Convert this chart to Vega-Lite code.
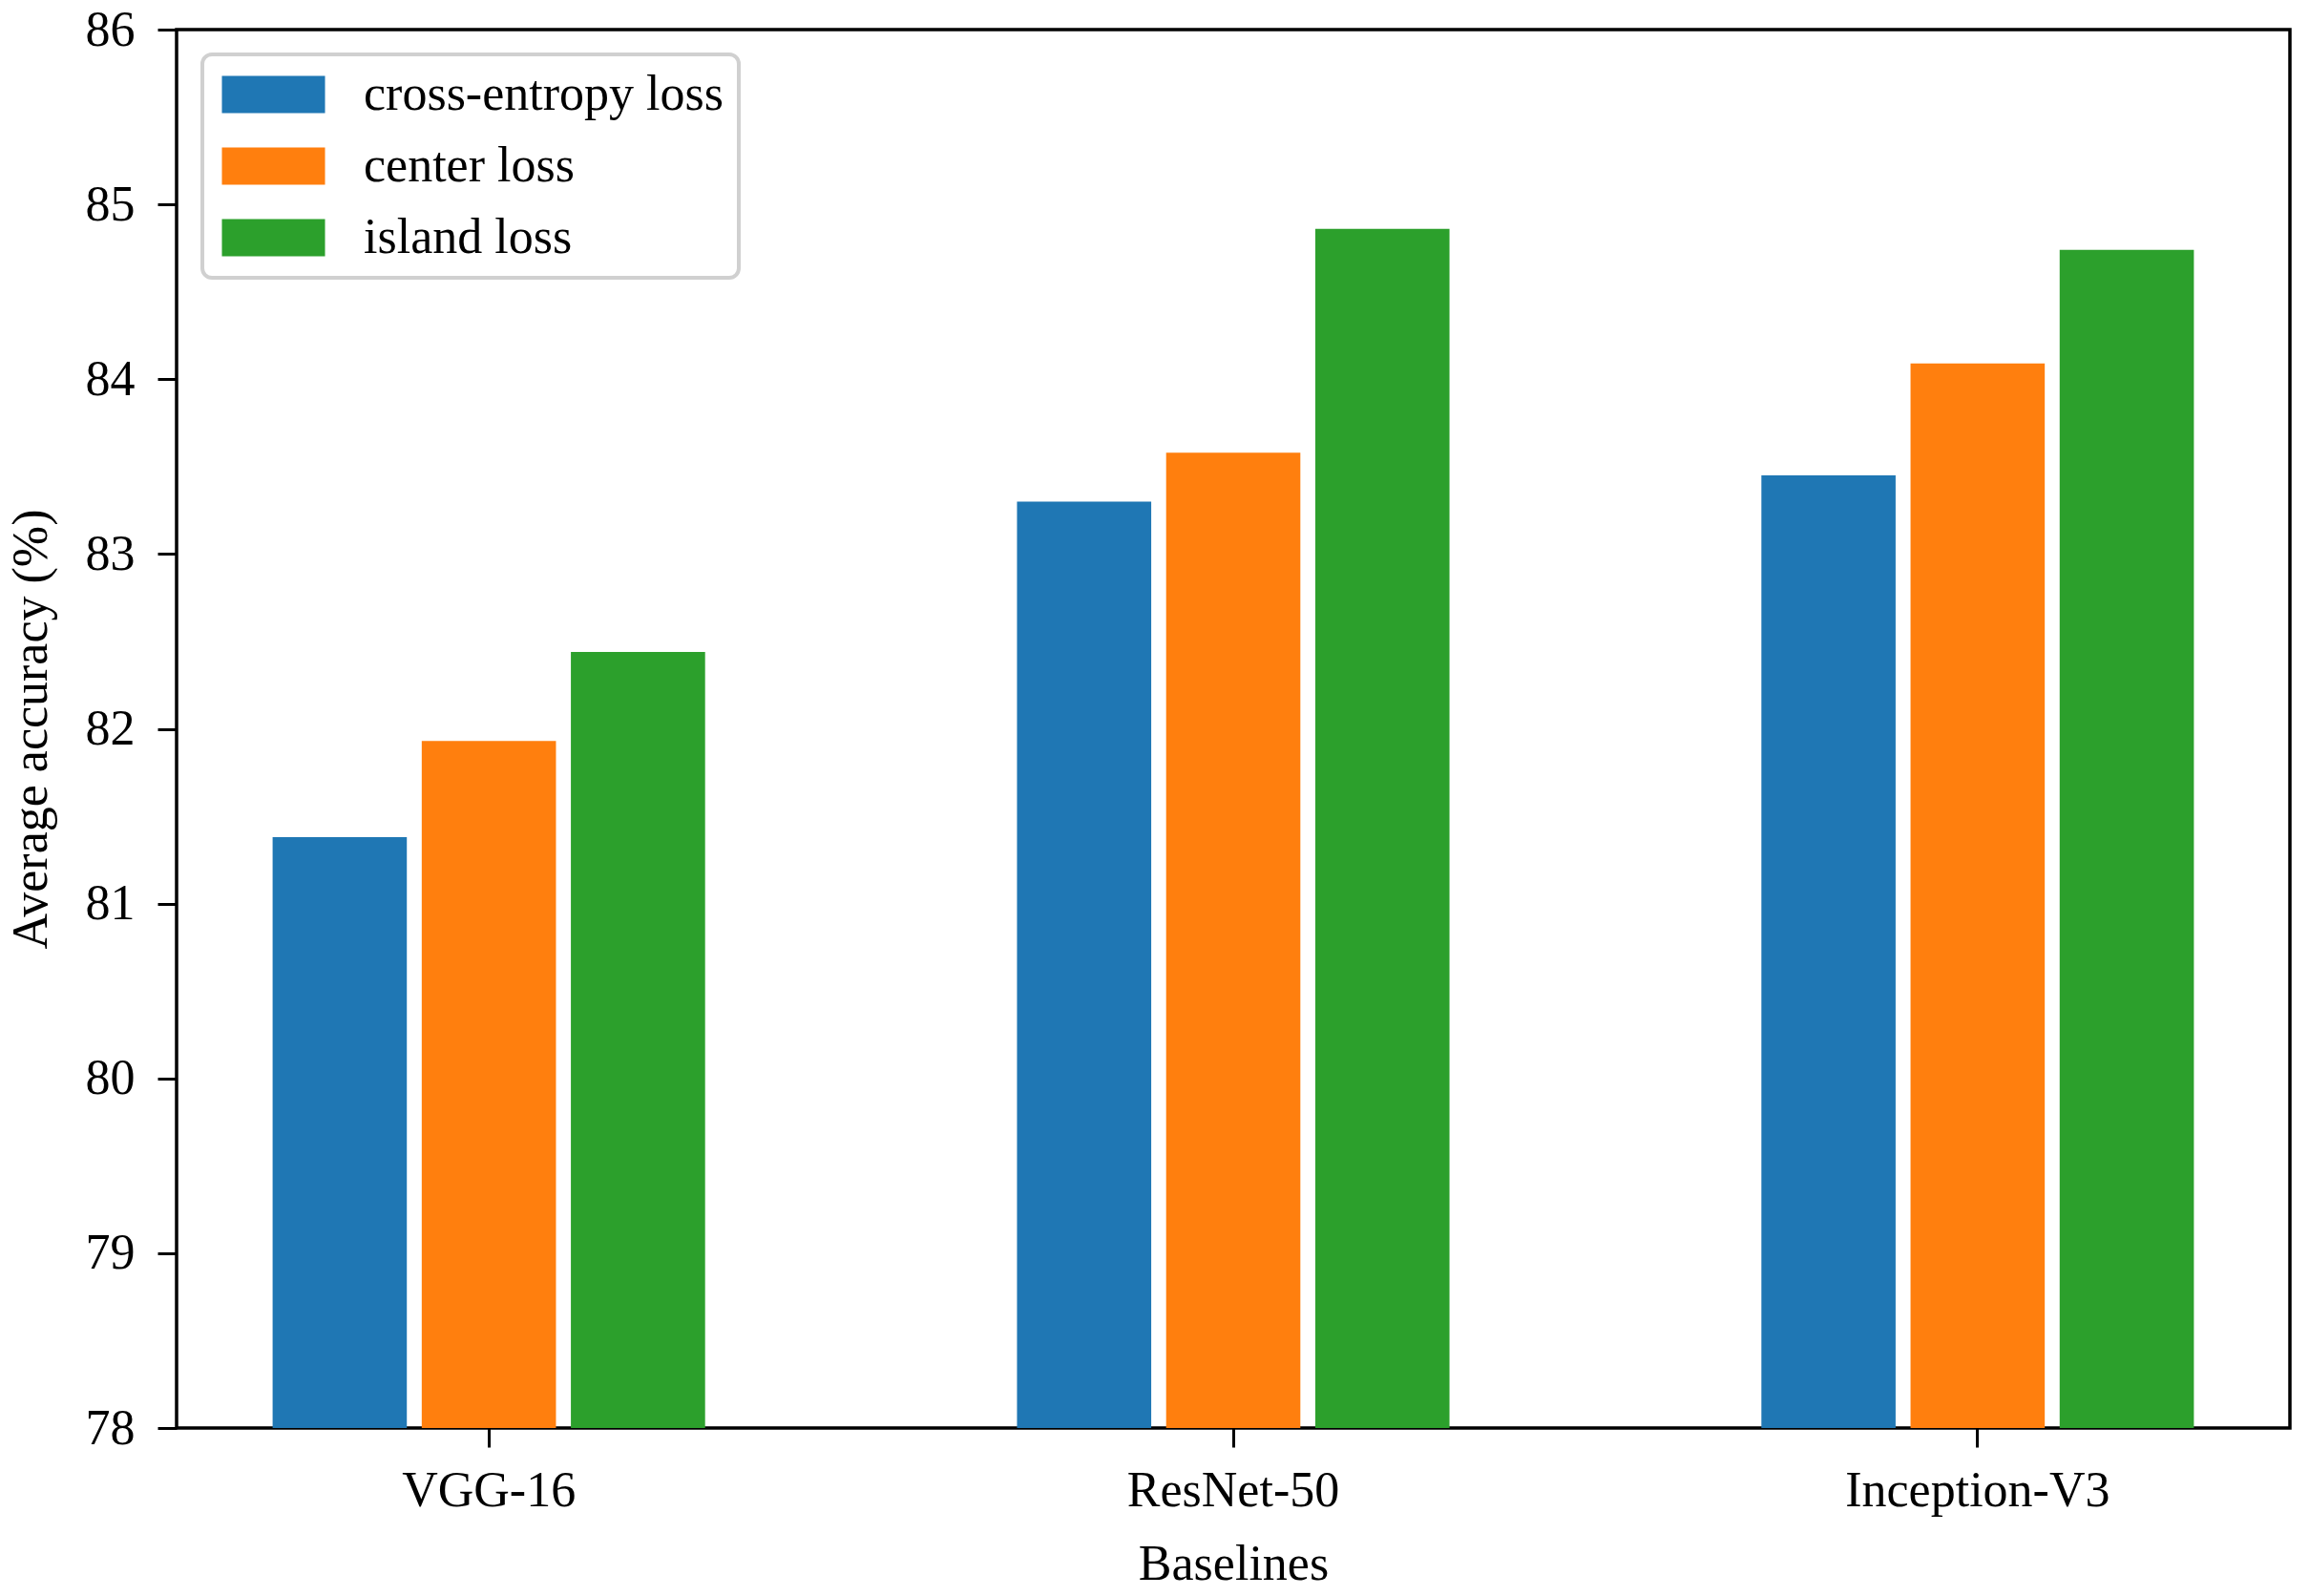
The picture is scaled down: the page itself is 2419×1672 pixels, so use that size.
{
  "$schema": "https://vega.github.io/schema/vega-lite/v6.json",
  "width": 2214,
  "height": 1465,
  "autosize": {"type": "none"},
  "padding": {"left": 185, "top": 31, "right": 20, "bottom": 176},
  "background": "white",
  "config": {
    "font": "Liberation Serif",
    "view": {"stroke": "black", "strokeWidth": 3.5},
    "axis": {
      "labelFont": "Liberation Serif",
      "titleFont": "Liberation Serif",
      "labelFontSize": 52,
      "titleFontSize": 52,
      "labelColor": "black",
      "titleColor": "black",
      "titleFontWeight": "normal",
      "tickColor": "black",
      "tickWidth": 3,
      "tickSize": 20,
      "labelLimit": 1000,
      "domain": false,
      "grid": false
    },
    "legend": {
      "labelFont": "Liberation Serif",
      "labelFontSize": 52,
      "labelColor": "black",
      "labelLimit": 1000
    }
  },
  "data": {
    "values": [
      {"baseline": "VGG-16", "loss": "cross-entropy loss", "accuracy": 81.38},
      {"baseline": "VGG-16", "loss": "center loss", "accuracy": 81.93},
      {"baseline": "VGG-16", "loss": "island loss", "accuracy": 82.44},
      {"baseline": "ResNet-50", "loss": "cross-entropy loss", "accuracy": 83.30},
      {"baseline": "ResNet-50", "loss": "center loss", "accuracy": 83.58},
      {"baseline": "ResNet-50", "loss": "island loss", "accuracy": 84.86},
      {"baseline": "Inception-V3", "loss": "cross-entropy loss", "accuracy": 83.45},
      {"baseline": "Inception-V3", "loss": "center loss", "accuracy": 84.09},
      {"baseline": "Inception-V3", "loss": "island loss", "accuracy": 84.74}
    ]
  },
  "mark": {"type": "bar", "clip": true},
  "encoding": {
    "x": {
      "field": "baseline",
      "type": "nominal",
      "sort": ["VGG-16", "ResNet-50", "Inception-V3"],
      "scale": {"paddingInner": 0.419, "paddingOuter": 0.129},
      "axis": {"title": "Baselines", "labelAngle": 0, "labelPadding": 20, "titlePadding": 26}
    },
    "xOffset": {
      "field": "loss",
      "type": "nominal",
      "sort": ["cross-entropy loss", "center loss", "island loss"],
      "scale": {"paddingInner": 0.1, "paddingOuter": 0}
    },
    "y": {
      "field": "accuracy",
      "type": "quantitative",
      "scale": {"domain": [78, 86], "zero": false, "nice": false},
      "axis": {
        "title": "Average accuracy (%)",
        "values": [78, 79, 80, 81, 82, 83, 84, 85, 86],
        "labelPadding": 24,
        "titlePadding": 30
      }
    },
    "color": {
      "field": "loss",
      "type": "nominal",
      "sort": ["cross-entropy loss", "center loss", "island loss"],
      "scale": {
        "domain": ["cross-entropy loss", "center loss", "island loss"],
        "range": ["#1f77b4", "#ff7f0e", "#2ca02c"]
      },
      "legend": {
        "title": null,
        "orient": "none",
        "legendX": 27,
        "legendY": 26,
        "padding": 16,
        "symbolType": "M-2.77,-1H2.77V1H-2.77Z",
        "symbolSize": 1521,
        "symbolStrokeWidth": 0,
        "symbolOffset": 32.5,
        "labelOffset": 68.5,
        "rowPadding": 23,
        "strokeColor": "#d0d0d0",
        "cornerRadius": 10,
        "fillColor": "white",
        "encode": {"legend": {"update": {"strokeWidth": {"value": 4}}}}
      }
    }
  }
}
